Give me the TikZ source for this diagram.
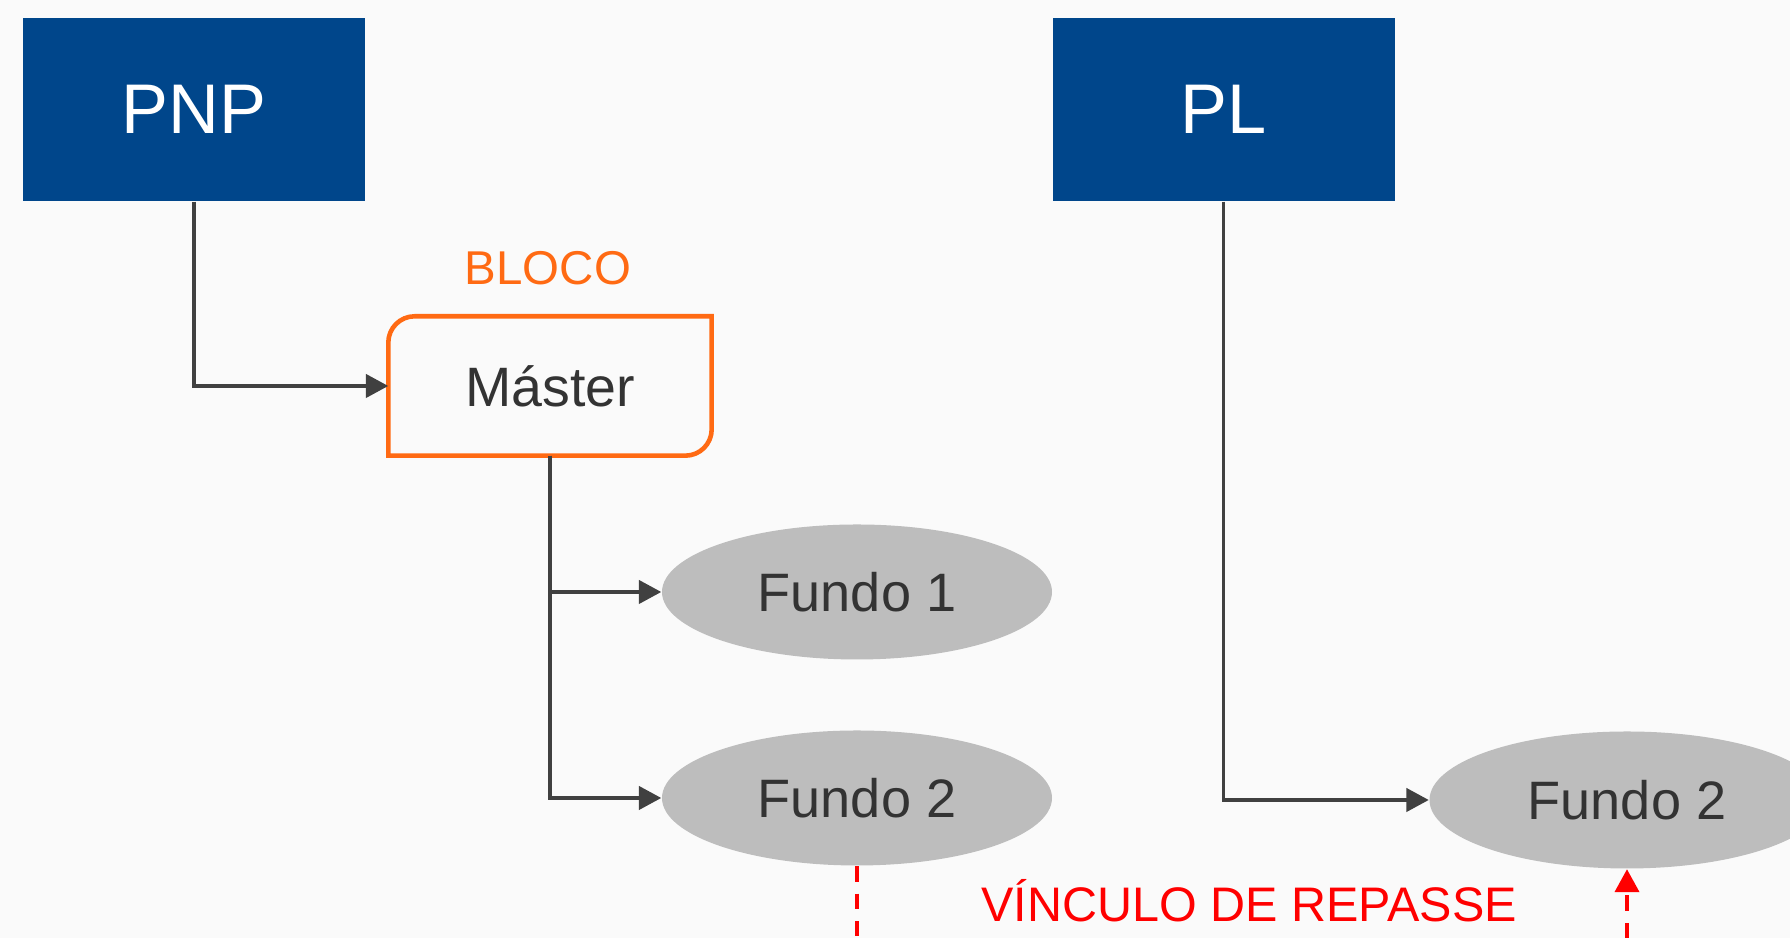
\documentclass[tikz,border=0pt]{standalone}
\usepackage{fontspec}
\setmainfont{Liberation Sans}
\usetikzlibrary{shapes.geometric,arrows.meta}
\definecolor{azul}{HTML}{00468B}
\definecolor{laranja}{HTML}{FF6A13}
\definecolor{cinza}{HTML}{BDBDBD}
\definecolor{texto}{HTML}{333333}
\definecolor{linha}{HTML}{404040}
\definecolor{fundo}{HTML}{FAFAFA}

\begin{document}
\begin{tikzpicture}[x=0.1mm,y=0.1mm,
    plano/.style={fill=azul,text=white,minimum width=34.2mm,minimum height=18.3mm,inner sep=0pt,font=\fontsize{20}{24}\selectfont},
    fundoel/.style={ellipse,fill=cinza,text=texto,minimum width=39mm,minimum height=13.5mm,inner sep=0pt,font=\fontsize{15.4}{18}\selectfont},
    seta/.style={draw=linha,line width=1.1pt,-{Triangle[length=6.4pt,width=6.6pt]}},
    repasse/.style={draw=red,line width=1.1pt,dash pattern=on 4.4pt off 3.4pt}]

  \useasboundingbox (0,0) rectangle (1790,938);
  \fill[fundo] (0,0) rectangle (1790,938);
  \clip (0,0) rectangle (1790,938);

  \node[plano] (PNP) at (194,828.5) {PNP};
  \node[plano] (PL) at (1223.5,828.5) {PL};

  \node[text=laranja,font=\fontsize{13.5}{16}\selectfont] (bloco) at (548,670) {BLOCO};
  \node[minimum width=32.2mm,minimum height=13.8mm,inner sep=0pt,text=texto,font=\fontsize{15.8}{19}\selectfont] (M) at (550,552) {Máster};
  \draw[laranja,line width=1.3pt] ([yshift=-7.5pt]M.north west) arc[start angle=180,end angle=90,radius=7.5pt]
    -- (M.north east) -- ([yshift=7.5pt]M.south east) arc[start angle=0,end angle=-90,radius=7.5pt]
    -- (M.south west) -- cycle;

  \node[fundoel] (F1) at (857,346) {Fundo 1};
  \node[fundoel] (F2) at (857,140) {Fundo 2};
  \node[fundoel,minimum width=39.5mm,minimum height=13.7mm] (F2b) at (1627,138) {Fundo 2};

  \draw[seta] (PNP.south) |- (M.west);
  \draw[seta] (M.south) |- (F1.west);
  \draw[seta] (M.south) |- (F2.west);
  \draw[seta] (PL.south) |- (F2b.west);

  \coordinate (v1) at (857,0);
  \coordinate (v2) at (1627,0);
  \draw[repasse] (F2.south) -- (v1);
  \draw[repasse,-{Triangle[length=6.5pt,width=6.8pt]}] (v2) -- (F2b.south);
  \node[text=red,font=\fontsize{13.8}{16}\selectfont] (vinculo) at (1249,37) {VÍNCULO DE REPASSE};

\end{tikzpicture}
\end{document}
